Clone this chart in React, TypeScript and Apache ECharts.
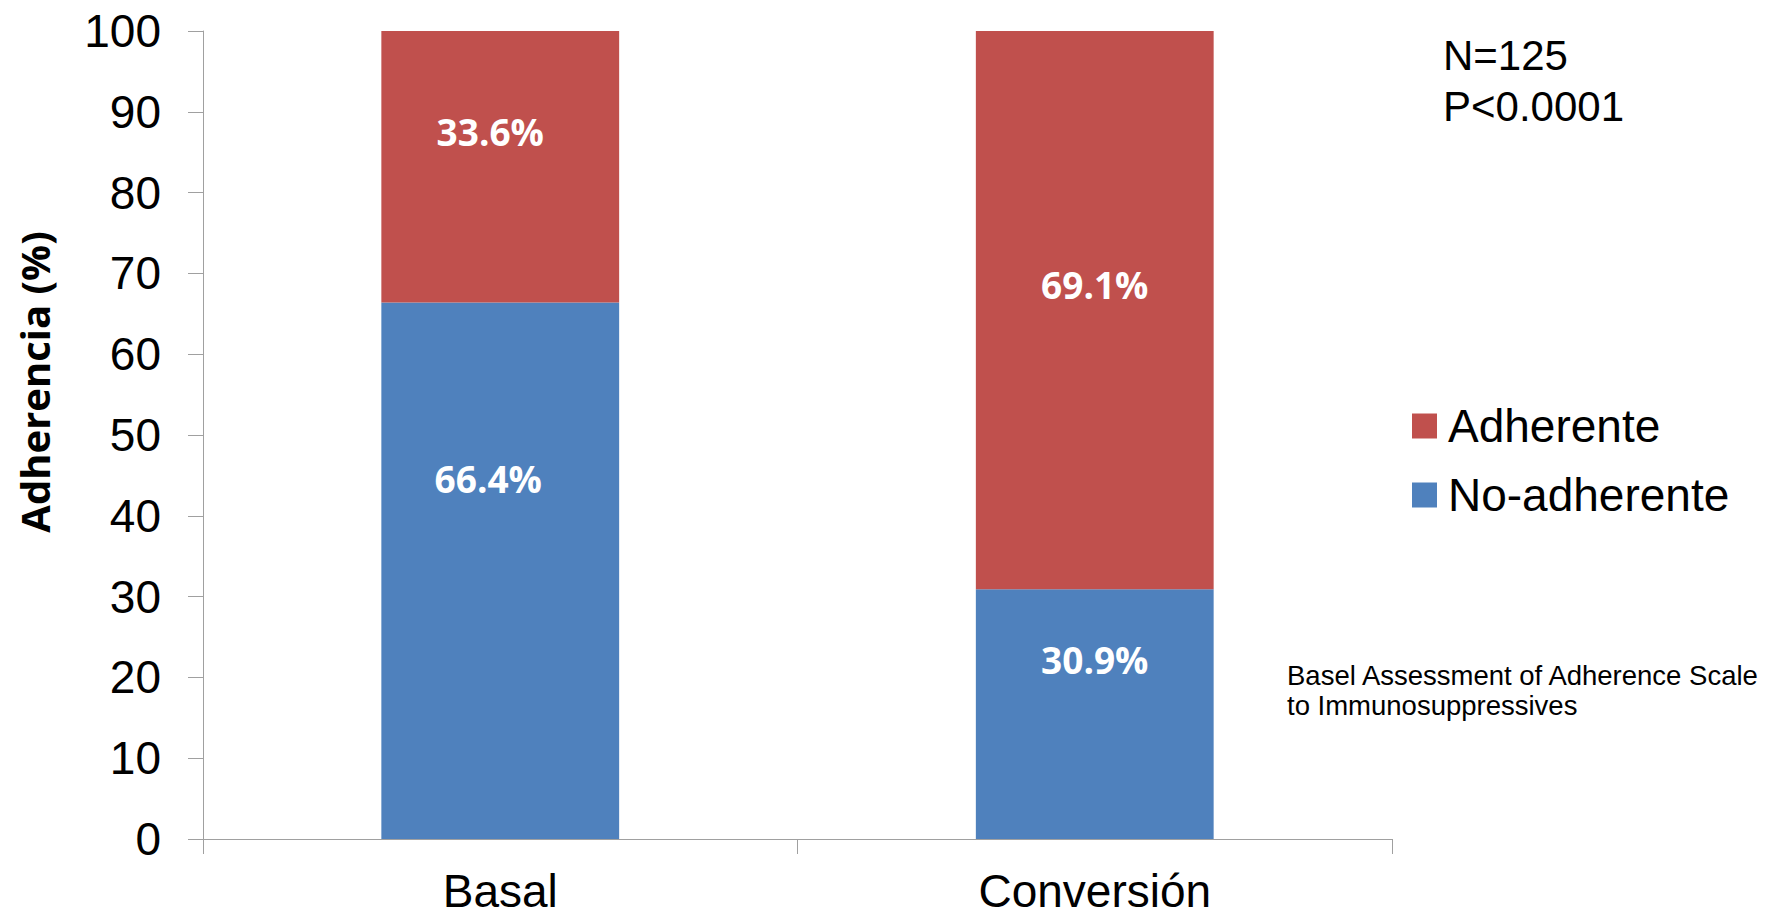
import React, { useEffect, useRef } from "react";
import * as echarts from "echarts";

const categories = ["Basal", "Conversión"];
const noAdherente = [66.4, 30.9];
const adherente = [33.6, 69.1];
const seriesNames = ["Adherente", "No-adherente"];
const yMin = 0;
const yMax = 100;
const yInterval = 10;
const statLines = ["N=125", "P<0.0001"];
const noteLines = ["Basel Assessment of Adherence Scale", "to Immunosuppressives"];
const yTitle = "Adherencia (%)";

// label placement tweaks (layout only)
const noAdhLabelOffsets = [[-12, -92], [0, -55]];
const adhLabelOffsets = [[-10, -35], [0, -26]];

const RED = "#C0504D";
const BLUE = "#4F81BD";
const AXIS = "#A0A0A0";
const FONT = "'Liberation Sans', Arial, sans-serif";
const LABEL_FONT = "'Open Sans', 'Liberation Sans', sans-serif";

export default function App() {
  const ref = useRef<HTMLDivElement>(null);
  useEffect(() => {
    if (!ref.current) return;
    const chart = echarts.init(ref.current, undefined, { renderer: "svg" });
    const barLabel = {
      show: true,
      position: "inside",
      color: "#fff",
      fontFamily: LABEL_FONT,
      fontWeight: "bold",
      fontSize: 37,
      formatter: (p: any) => Number(p.value).toFixed(1) + "%",
    };
    chart.setOption({
      animation: false,
      backgroundColor: "#fff",
      grid: { left: 203, right: 380, top: 31, bottom: 78, containLabel: false },
      legend: {
        orient: "vertical",
        left: 1412,
        top: 403,
        padding: 0,
        itemWidth: 25,
        itemHeight: 25,
        itemGap: 23,
        icon: "rect",
        data: seriesNames,
        textStyle: {
          fontFamily: FONT,
          fontSize: 46,
          color: "#000",
          lineHeight: 46,
          padding: [0, 0, 0, 6],
        },
      },
      xAxis: {
        type: "category",
        data: categories,
        axisLine: { show: true, lineStyle: { color: AXIS, width: 1 } },
        axisTick: { show: true, length: 15, alignWithLabel: false, lineStyle: { color: AXIS } },
        axisLabel: { fontFamily: FONT, fontSize: 46, color: "#000", margin: 29, lineHeight: 46 },
        splitLine: { show: false },
      },
      yAxis: {
        type: "value",
        min: yMin,
        max: yMax,
        interval: yInterval,
        axisLine: { show: true, lineStyle: { color: AXIS, width: 1 } },
        axisTick: { show: true, length: 15, lineStyle: { color: AXIS } },
        axisLabel: { fontFamily: FONT, fontSize: 46, color: "#000", margin: 42 },
        splitLine: { show: false },
      },
      series: [
        {
          name: seriesNames[1],
          type: "bar",
          stack: "total",
          barWidth: "40%",
          itemStyle: { color: BLUE },
          label: barLabel,
          data: noAdherente.map((v, i) => ({ value: v, label: { offset: noAdhLabelOffsets[i] } })),
        },
        {
          name: seriesNames[0],
          type: "bar",
          stack: "total",
          barWidth: "40%",
          itemStyle: { color: RED },
          label: barLabel,
          data: adherente.map((v, i) => ({ value: v, label: { offset: adhLabelOffsets[i] } })),
        },
      ],
      graphic: [
        {
          type: "text",
          x: 34,
          y: 382,
          rotation: Math.PI / 2,
          style: {
            text: yTitle,
            fontFamily: LABEL_FONT,
            fontWeight: "bold",
            fontSize: 40,
            fill: "#000",
            align: "center",
            verticalAlign: "middle",
          },
        },
        ...statLines.map((t, i) => ({
          type: "text",
          x: 1443,
          y: 55 + i * 51,
          style: {
            text: t,
            fontFamily: FONT,
            fontSize: 42,
            fill: "#000",
            align: "left",
            verticalAlign: "middle",
          },
        })),
        ...noteLines.map((t, i) => ({
          type: "text",
          x: 1287,
          y: 675 + i * 30,
          style: {
            text: t,
            fontFamily: FONT,
            fontSize: 27.5,
            fill: "#000",
            align: "left",
            verticalAlign: "middle",
          },
        })),
      ],
    });
    return () => chart.dispose();
  }, []);
  return (
    <div
      ref={ref}
      style={{ position: "absolute", left: 0, top: 0, width: 1772, height: 917 }}
    />
  );
}
